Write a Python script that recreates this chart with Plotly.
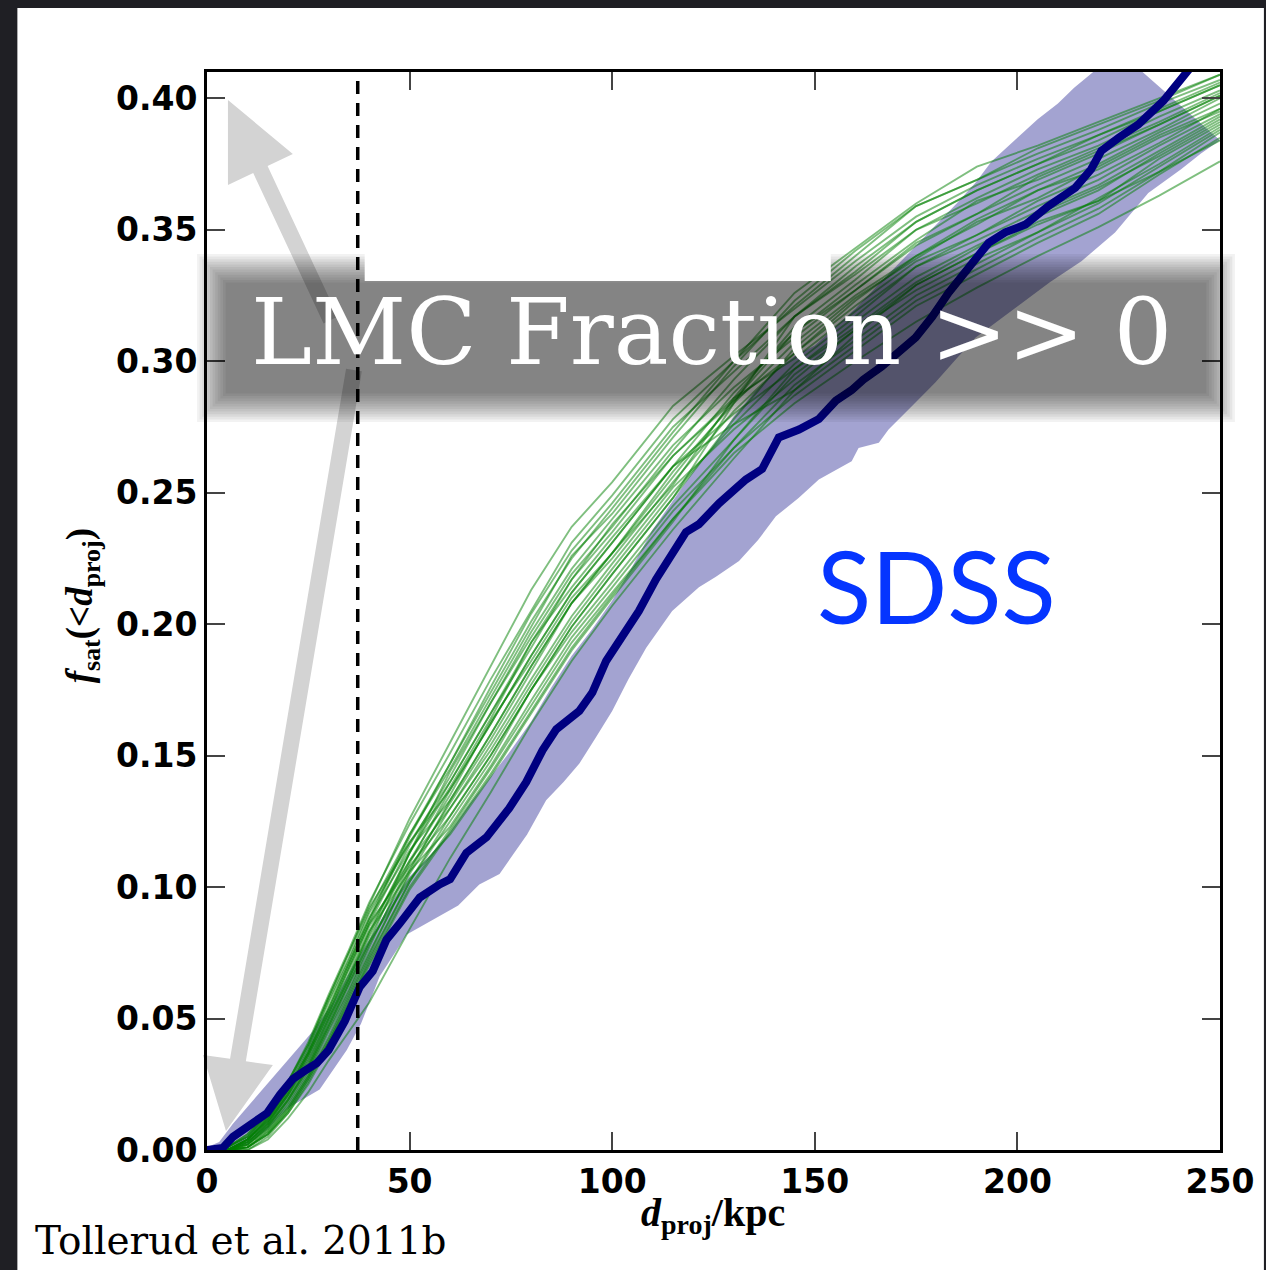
import plotly.graph_objects as go

# ---------------- data ----------------
navy_x = [0, 3.9, 6.4, 10, 14.8, 18, 21.2, 24, 27.1, 30, 32.0, 34, 36.0, 37.7, 40.9, 44.3, 47.5,
          50.7, 52.5, 57.4, 60, 64.0, 69.0, 74.6, 78.8, 82.8, 86.2, 91.9, 95.1, 98.5, 101.7, 106.6,
          110.8, 113.3, 118.2, 121.4, 126.4, 133.0, 137.0, 141.1, 146.1, 151.0, 155.2, 159.1, 162,
          166.5, 170, 174.9, 179, 183.0, 188.7, 192.9, 197.0, 202.0, 207.6, 214.3, 218.2, 220.7,
          225, 229.8, 236, 242, 245]
navy_y = [0, 0.0008, 0.005, 0.009, 0.014, 0.021, 0.027, 0.030, 0.033, 0.038, 0.043, 0.049, 0.056,
          0.062, 0.068, 0.080, 0.086, 0.092, 0.096, 0.101, 0.103, 0.113, 0.119, 0.130, 0.140, 0.152,
          0.160, 0.167, 0.174, 0.186, 0.193, 0.205, 0.217, 0.223, 0.235, 0.238, 0.246, 0.255, 0.259,
          0.271, 0.274, 0.278, 0.285, 0.289, 0.293, 0.298, 0.303, 0.309, 0.317, 0.326, 0.337, 0.345,
          0.349, 0.352, 0.359, 0.366, 0.373, 0.380, 0.385, 0.390, 0.399, 0.410, 0.416]

band_upper_x = [0, 3, 6.4, 12, 20.4, 26, 31, 36, 40, 45, 50, 55, 60, 65, 70, 75, 80, 85, 90, 95,
                100, 105, 110, 115, 120, 125, 130, 135, 140, 145, 150, 155, 160, 165, 170, 175,
                180, 185, 189.7, 193.6, 200, 205, 210, 214, 218.7, 225]
band_upper_y = [0.001, 0.003, 0.010, 0.020, 0.035, 0.045, 0.056, 0.070, 0.080, 0.093, 0.104, 0.112,
                0.121, 0.132, 0.142, 0.152, 0.163, 0.176, 0.188, 0.198, 0.209, 0.222, 0.236, 0.247,
                0.258, 0.268, 0.279, 0.288, 0.296, 0.302, 0.306, 0.313, 0.320, 0.328, 0.336, 0.344,
                0.352, 0.360, 0.368, 0.376, 0.385, 0.392, 0.398, 0.404, 0.410, 0.418]
band_lower_x = [0, 5, 10, 15, 20, 27.8, 34.5, 38, 42.6, 49.3, 57.4, 62, 67.2, 72.2, 74.6, 79, 83.7,
                88, 91.9, 96, 100, 104, 108.4, 114.8, 121.4, 125.6, 131.3, 136, 140.4, 146, 151,
                159.1, 160.8, 165.8, 168.2, 174, 179.8, 185, 189.7, 196, 202, 208, 215.8, 224.1,
                232.3, 240.4, 245.3, 250]
band_lower_y = [0, 0, 0.002, 0.008, 0.016, 0.023, 0.038, 0.048, 0.066, 0.082, 0.089, 0.093, 0.101,
                0.105, 0.110, 0.120, 0.133, 0.140, 0.147, 0.157, 0.167, 0.179, 0.191, 0.205, 0.214,
                0.218, 0.224, 0.232, 0.241, 0.248, 0.255, 0.262, 0.267, 0.269, 0.274, 0.283, 0.292,
                0.301, 0.309, 0.316, 0.323, 0.330, 0.338, 0.349, 0.364, 0.373, 0.379, 0.384]

green_x = [0, 5, 10, 15, 20, 25, 30, 35, 40, 50, 60, 70, 80, 90, 100, 115, 130, 145, 160, 175,
           190, 205, 220, 235, 250]
green_runs = [
    [0, 0.001, 0.006, 0.014, 0.026, 0.041, 0.059, 0.076, 0.094, 0.124, 0.151, 0.179, 0.205, 0.231, 0.249, 0.278, 0.300, 0.321, 0.340, 0.359, 0.369, 0.379, 0.388, 0.398, 0.407],
    [0, 0.001, 0.005, 0.013, 0.025, 0.039, 0.057, 0.073, 0.091, 0.120, 0.145, 0.172, 0.199, 0.226, 0.242, 0.271, 0.298, 0.323, 0.342, 0.359, 0.369, 0.381, 0.390, 0.399, 0.409],
    [0, 0.000, 0.004, 0.012, 0.023, 0.037, 0.054, 0.071, 0.088, 0.120, 0.147, 0.176, 0.204, 0.228, 0.246, 0.275, 0.296, 0.317, 0.333, 0.350, 0.362, 0.373, 0.382, 0.393, 0.403],
    [0, 0.000, 0.004, 0.011, 0.022, 0.036, 0.052, 0.069, 0.086, 0.116, 0.142, 0.170, 0.195, 0.219, 0.237, 0.266, 0.293, 0.317, 0.334, 0.353, 0.365, 0.375, 0.386, 0.395, 0.405],
    [0, 0.000, 0.003, 0.010, 0.021, 0.034, 0.050, 0.066, 0.083, 0.113, 0.138, 0.164, 0.193, 0.214, 0.233, 0.260, 0.288, 0.311, 0.329, 0.346, 0.361, 0.369, 0.379, 0.390, 0.401],
    [0, 0.000, 0.003, 0.009, 0.019, 0.032, 0.048, 0.064, 0.081, 0.110, 0.135, 0.163, 0.186, 0.210, 0.227, 0.258, 0.284, 0.307, 0.325, 0.340, 0.354, 0.365, 0.375, 0.387, 0.398],
    [0, 0.000, 0.002, 0.008, 0.018, 0.030, 0.046, 0.061, 0.078, 0.107, 0.132, 0.156, 0.182, 0.208, 0.225, 0.254, 0.281, 0.303, 0.323, 0.340, 0.352, 0.365, 0.373, 0.385, 0.395],
    [0, 0.000, 0.001, 0.007, 0.016, 0.028, 0.043, 0.059, 0.075, 0.105, 0.130, 0.152, 0.177, 0.201, 0.221, 0.250, 0.276, 0.299, 0.317, 0.336, 0.346, 0.357, 0.367, 0.380, 0.393],
    [0, 0.000, 0.001, 0.006, 0.015, 0.027, 0.041, 0.057, 0.073, 0.102, 0.125, 0.148, 0.175, 0.197, 0.216, 0.245, 0.270, 0.295, 0.312, 0.329, 0.341, 0.353, 0.361, 0.377, 0.390],
    [0, 0.000, 0.000, 0.005, 0.014, 0.025, 0.039, 0.054, 0.070, 0.099, 0.121, 0.143, 0.167, 0.191, 0.211, 0.240, 0.267, 0.291, 0.308, 0.325, 0.337, 0.349, 0.360, 0.374, 0.388],
    [0, 0.001, 0.005, 0.013, 0.024, 0.038, 0.056, 0.072, 0.090, 0.117, 0.140, 0.166, 0.193, 0.217, 0.238, 0.264, 0.285, 0.303, 0.321, 0.338, 0.348, 0.361, 0.371, 0.383, 0.396],
    [0, 0.000, 0.001, 0.007, 0.016, 0.028, 0.042, 0.058, 0.074, 0.106, 0.133, 0.158, 0.184, 0.208, 0.227, 0.253, 0.286, 0.313, 0.331, 0.350, 0.360, 0.371, 0.381, 0.391, 0.402],
    [0, 0.000, 0.004, 0.011, 0.021, 0.035, 0.051, 0.067, 0.085, 0.110, 0.130, 0.154, 0.179, 0.203, 0.223, 0.252, 0.274, 0.293, 0.312, 0.327, 0.339, 0.349, 0.362, 0.375, 0.389],
    [0, 0.000, 0.002, 0.009, 0.019, 0.031, 0.047, 0.063, 0.079, 0.113, 0.144, 0.170, 0.197, 0.221, 0.240, 0.268, 0.290, 0.309, 0.327, 0.344, 0.356, 0.367, 0.377, 0.388, 0.400],
    [0, 0.001, 0.005, 0.014, 0.026, 0.040, 0.058, 0.075, 0.092, 0.117, 0.137, 0.162, 0.188, 0.212, 0.231, 0.260, 0.280, 0.297, 0.315, 0.332, 0.344, 0.355, 0.365, 0.379, 0.392],
    [0, 0.000, 0.003, 0.010, 0.020, 0.032, 0.049, 0.065, 0.083, 0.106, 0.123, 0.146, 0.171, 0.195, 0.214, 0.243, 0.267, 0.287, 0.304, 0.321, 0.333, 0.345, 0.356, 0.371, 0.385],
    [0, 0.000, 0.004, 0.012, 0.023, 0.037, 0.053, 0.070, 0.087, 0.119, 0.147, 0.174, 0.201, 0.225, 0.244, 0.273, 0.300, 0.326, 0.343, 0.360, 0.374, 0.382, 0.391, 0.400, 0.409],
    [0, 0.000, 0.001, 0.006, 0.014, 0.026, 0.040, 0.055, 0.072, 0.102, 0.127, 0.150, 0.175, 0.199, 0.219, 0.248, 0.284, 0.317, 0.336, 0.353, 0.365, 0.375, 0.384, 0.395, 0.405],
    [0, 0.000, 0.003, 0.010, 0.021, 0.033, 0.050, 0.065, 0.082, 0.113, 0.140, 0.166, 0.191, 0.217, 0.235, 0.264, 0.286, 0.301, 0.319, 0.336, 0.348, 0.359, 0.369, 0.382, 0.394],
    [0, 0.000, 0.002, 0.008, 0.017, 0.029, 0.045, 0.060, 0.077, 0.109, 0.137, 0.162, 0.188, 0.212, 0.231, 0.260, 0.276, 0.289, 0.306, 0.323, 0.335, 0.347, 0.358, 0.372, 0.387],
    [0, 0.000, 0.004, 0.012, 0.023, 0.037, 0.054, 0.071, 0.088, 0.114, 0.133, 0.158, 0.184, 0.208, 0.227, 0.256, 0.285, 0.311, 0.327, 0.345, 0.356, 0.370, 0.380, 0.390, 0.401],
    [0, 0.000, 0.002, 0.009, 0.019, 0.031, 0.047, 0.063, 0.079, 0.103, 0.120, 0.142, 0.166, 0.190, 0.210, 0.239, 0.270, 0.297, 0.313, 0.330, 0.343, 0.356, 0.366, 0.378, 0.391],
    [0, 0.000, 0.000, 0.004, 0.012, 0.022, 0.034, 0.045, 0.056, 0.084, 0.111, 0.136, 0.162, 0.186, 0.207, 0.236, 0.263, 0.289, 0.310, 0.329, 0.341, 0.352, 0.361, 0.372, 0.384],
    [0, 0.000, 0.001, 0.006, 0.015, 0.027, 0.041, 0.056, 0.071, 0.100, 0.122, 0.145, 0.169, 0.193, 0.212, 0.240, 0.265, 0.284, 0.300, 0.315, 0.328, 0.340, 0.351, 0.363, 0.376],
    [0, 0.001, 0.006, 0.014, 0.026, 0.040, 0.058, 0.075, 0.093, 0.126, 0.155, 0.184, 0.213, 0.237, 0.254, 0.283, 0.302, 0.320, 0.338, 0.355, 0.367, 0.377, 0.386, 0.396, 0.406],
    [0, 0.000, 0.004, 0.011, 0.022, 0.036, 0.052, 0.069, 0.086, 0.108, 0.127, 0.150, 0.175, 0.199, 0.219, 0.248, 0.278, 0.305, 0.324, 0.339, 0.353, 0.362, 0.374, 0.386, 0.396],
]

dashed_x = 37.2
x_ticks = [0, 50, 100, 150, 200, 250]
y_ticks = [0.0, 0.05, 0.10, 0.15, 0.20, 0.25, 0.30, 0.35, 0.40]
y_tick_labels = ["0.00", "0.05", "0.10", "0.15", "0.20", "0.25", "0.30", "0.35", "0.40"]

# ---------------- layout geometry ----------------
W, H = 1266, 1270
ML, MR, MT, MB = 207, 44, 72, 120
PW, PH = W - ML - MR, H - MT - MB


def px(xp, yp):
    return (xp - ML) / PW, (MT + PH - yp) / PH


def path(points):
    pts = [px(a, b) for a, b in points]
    return "M " + " L ".join(f"{a:.5f},{b:.5f}" for a, b in pts) + " Z"


def rect(x0, y0, x1, y1, color, layer="above"):
    a0, b0 = px(x0, y1)
    a1, b1 = px(x1, y0)
    return dict(type="rect", xref="paper", yref="paper", x0=a0, y0=b0, x1=a1, y1=b1,
                fillcolor=color, line=dict(width=0), layer=layer)


fig = go.Figure()

# band
fig.add_trace(go.Scatter(
    x=band_upper_x + band_lower_x[::-1], y=band_upper_y + band_lower_y[::-1],
    fill="toself", fillcolor="rgba(0,0,128,0.36)", line=dict(width=0),
    mode="lines", hoverinfo="skip", showlegend=False))

# green runs
for run in green_runs:
    fig.add_trace(go.Scatter(x=green_x, y=run, mode="lines",
                             line=dict(color="rgba(0,128,0,0.5)", width=1.9),
                             hoverinfo="skip", showlegend=False))

# navy median
fig.add_trace(go.Scatter(x=navy_x, y=navy_y, mode="lines",
                         line=dict(color="#000080", width=8),
                         hoverinfo="skip", showlegend=False))

# dashed vertical line
fig.add_trace(go.Scatter(x=[dashed_x, dashed_x], y=[0, 0.41], mode="lines",
                         line=dict(color="black", width=3.5, dash="13px,9px"),
                         hoverinfo="skip", showlegend=False))

shapes = []
# white slide panel
shapes.append(rect(17, 8, 1266, 1270, "white", layer="below"))
# grey arrows
shapes.append(dict(type="path", xref="paper", yref="paper", layer="below",
                   path=path([(228, 100), (293, 154), (267.7, 166), (338.2, 316.6),
                              (323.8, 323.4), (253.3, 173), (228, 185)]),
                   fillcolor="#d3d3d3", line=dict(width=0)))
shapes.append(dict(type="path", xref="paper", yref="paper", layer="below",
                   path=path([(226, 1131), (273, 1065), (245.9, 1061.3), (362.1, 371.3),
                              (346.3, 368.7), (230.1, 1058.7), (203, 1055)]),
                   fillcolor="#d3d3d3", line=dict(width=0)))
# blurred grey banner
for i in range(12):
    d = i * 2.6
    shapes.append(rect(197 + d, 254 + d, 1237 - d, 422 - d, "rgba(0,0,0,0.05)"))
# white patch at top of banner
shapes.append(rect(365, 250, 832, 281, "white"))

annotations = [
    dict(text="LMC Fraction >> 0", x=px(712, 0)[0], y=px(0, 332)[1], xref="paper", yref="paper",
         showarrow=False, font=dict(family="DejaVu Serif", size=92, color="white"),
         xanchor="center", yanchor="middle"),
    dict(text="SDSS", x=px(938, 0)[0], y=px(0, 585)[1], xref="paper", yref="paper",
         showarrow=False, font=dict(family="Lato", size=100, color="#0535ff"),
         xanchor="center", yanchor="middle"),
    dict(text="Tollerud et al. 2011b", x=px(33, 0)[0], y=px(0, 1240)[1], xref="paper", yref="paper",
         showarrow=False, font=dict(family="DejaVu Serif", size=39, color="black"),
         xanchor="left", yanchor="middle"),
    dict(text="<b><i>d</i><sub>proj</sub>/kpc</b>", x=px(714, 0)[0], y=px(0, 1215)[1],
         xref="paper", yref="paper", showarrow=False,
         font=dict(family="Liberation Serif", size=40, color="black"),
         xanchor="center", yanchor="middle"),
    dict(text="<b><i>f</i><sub>sat</sub>(&lt;<i>d</i><sub>proj</sub>)</b>", x=px(82, 0)[0],
         y=px(0, 606)[1], xref="paper", yref="paper", showarrow=False, textangle=-90,
         font=dict(family="Liberation Serif", size=37, color="black"),
         xanchor="center", yanchor="middle"),
]

fig.update_layout(
    width=W, height=H,
    margin=dict(l=ML, r=MR, t=MT, b=MB),
    paper_bgcolor="#1f1f24",
    plot_bgcolor="rgba(0,0,0,0)",
    shapes=shapes,
    annotations=annotations,
    showlegend=False,
)
axis_common = dict(showgrid=False, zeroline=False, showline=True, linecolor="black", linewidth=3,
                   mirror="ticks", ticks="inside", ticklen=18, tickwidth=1.5, tickcolor="#444",
                   tickfont=dict(family="DejaVu Sans", size=33, color="black", weight="bold"))
fig.update_xaxes(range=[0, 250], tickvals=x_ticks, ticktext=[str(v) for v in x_ticks],
                 **axis_common)
fig.update_yaxes(range=[0, 0.41], tickvals=y_ticks, ticktext=y_tick_labels, **axis_common)

fig.write_html("out.html")
